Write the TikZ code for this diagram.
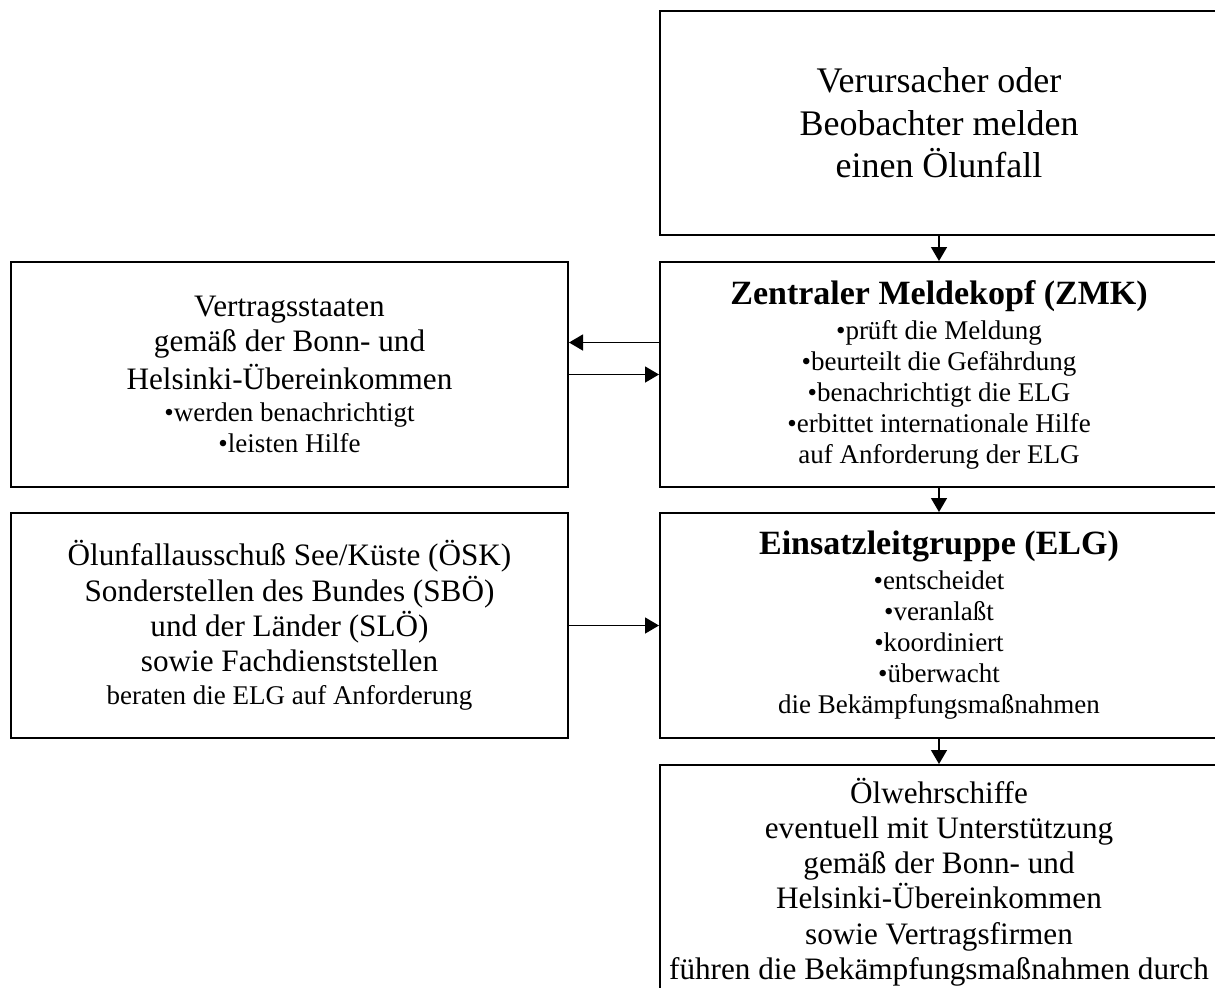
\documentclass[tikz,border=0pt]{standalone}
\usepackage{fontspec}
\setmainfont{Liberation Serif}
\usetikzlibrary{arrows.meta,positioning}

\newcommand{\gross}{\fontsize{18}{21.2}\selectfont}
\newcommand{\titelfont}{\fontsize{17}{19.5}\selectfont\bfseries}
\newcommand{\mittel}{\fontsize{15.6}{17.6}\selectfont}
\newcommand{\klein}{\fontsize{13.5}{15.5}\selectfont}

\begin{document}
\begin{tikzpicture}[
    x=0.5pt, y=-0.5pt,
    every node/.style={font=\mittel},
    box/.style={rectangle, draw, line width=1pt, align=center, inner sep=0pt},
    rbox/.style={box, minimum width=279pt, minimum height=112.5pt},
    lbox/.style={box, minimum width=278.5pt, minimum height=112.5pt},
    e/.style={-{Triangle[length=7pt, width=8pt]}, line width=0.75pt},
  ]
  \useasboundingbox (0,0) rectangle (1215,987);
  \clip (0,0) rectangle (1215,987);
  % right column
  \node[rbox, minimum height=112pt, font=\gross] (quelle) at (939,123)
    {Verursacher oder\\Beobachter melden\\einen Ölunfall};
  \node[rbox, font=\klein] (zmk) at (939,374.5)
    {{\titelfont Zentraler Meldekopf (ZMK)}\\[2pt]
     •prüft die Meldung\\•beurteilt die Gefährdung\\•benachrichtigt die ELG\\
     •erbittet internationale Hilfe\\auf Anforderung der ELG};
  \node[rbox, font=\klein] (elg) at (939,625.5)
    {{\titelfont Einsatzleitgruppe (ELG)}\\[2pt]
     •entscheidet\\•veranlaßt\\•koordiniert\\•überwacht\\die Bekämpfungsmaßnahmen};
  \node[rbox, minimum height=117pt] (schiffe) at (939,882)
    {Ölwehrschiffe\\eventuell mit Unterstützung\\gemäß der Bonn- und\\
     Helsinki-Übereinkommen\\sowie Vertragsfirmen\\führen die Bekämpfungsmaßnahmen durch};
  % left column
  \node[lbox, font=\klein] (staaten) at (289.5,374.5)
    {{\mittel Vertragsstaaten}\\[2pt]{\mittel gemäß der Bonn- und}\\[2pt]
     {\mittel Helsinki-Übereinkommen}\\[0.5pt]
     •werden benachrichtigt\\•leisten Hilfe};
  \node[lbox] (berater) at (289.5,625.5)
    {Ölunfallausschuß See/Küste (ÖSK)\\Sonderstellen des Bundes (SBÖ)\\
     und der Länder (SLÖ)\\sowie Fachdienststellen\\[-1pt]
     {\klein beraten die ELG auf Anforderung}};
  % connectors
  \draw[e] (quelle) -- (zmk);
  \draw[e] (zmk) -- (elg);
  \draw[e] (elg) -- (schiffe);
  \draw[e] ([yshift=16pt]zmk.west) -- ([yshift=16pt]staaten.east);
  \draw[e] (staaten.east) -- (zmk.west);
  \draw[e] (berater.east) -- (elg.west);
\end{tikzpicture}
\end{document}
